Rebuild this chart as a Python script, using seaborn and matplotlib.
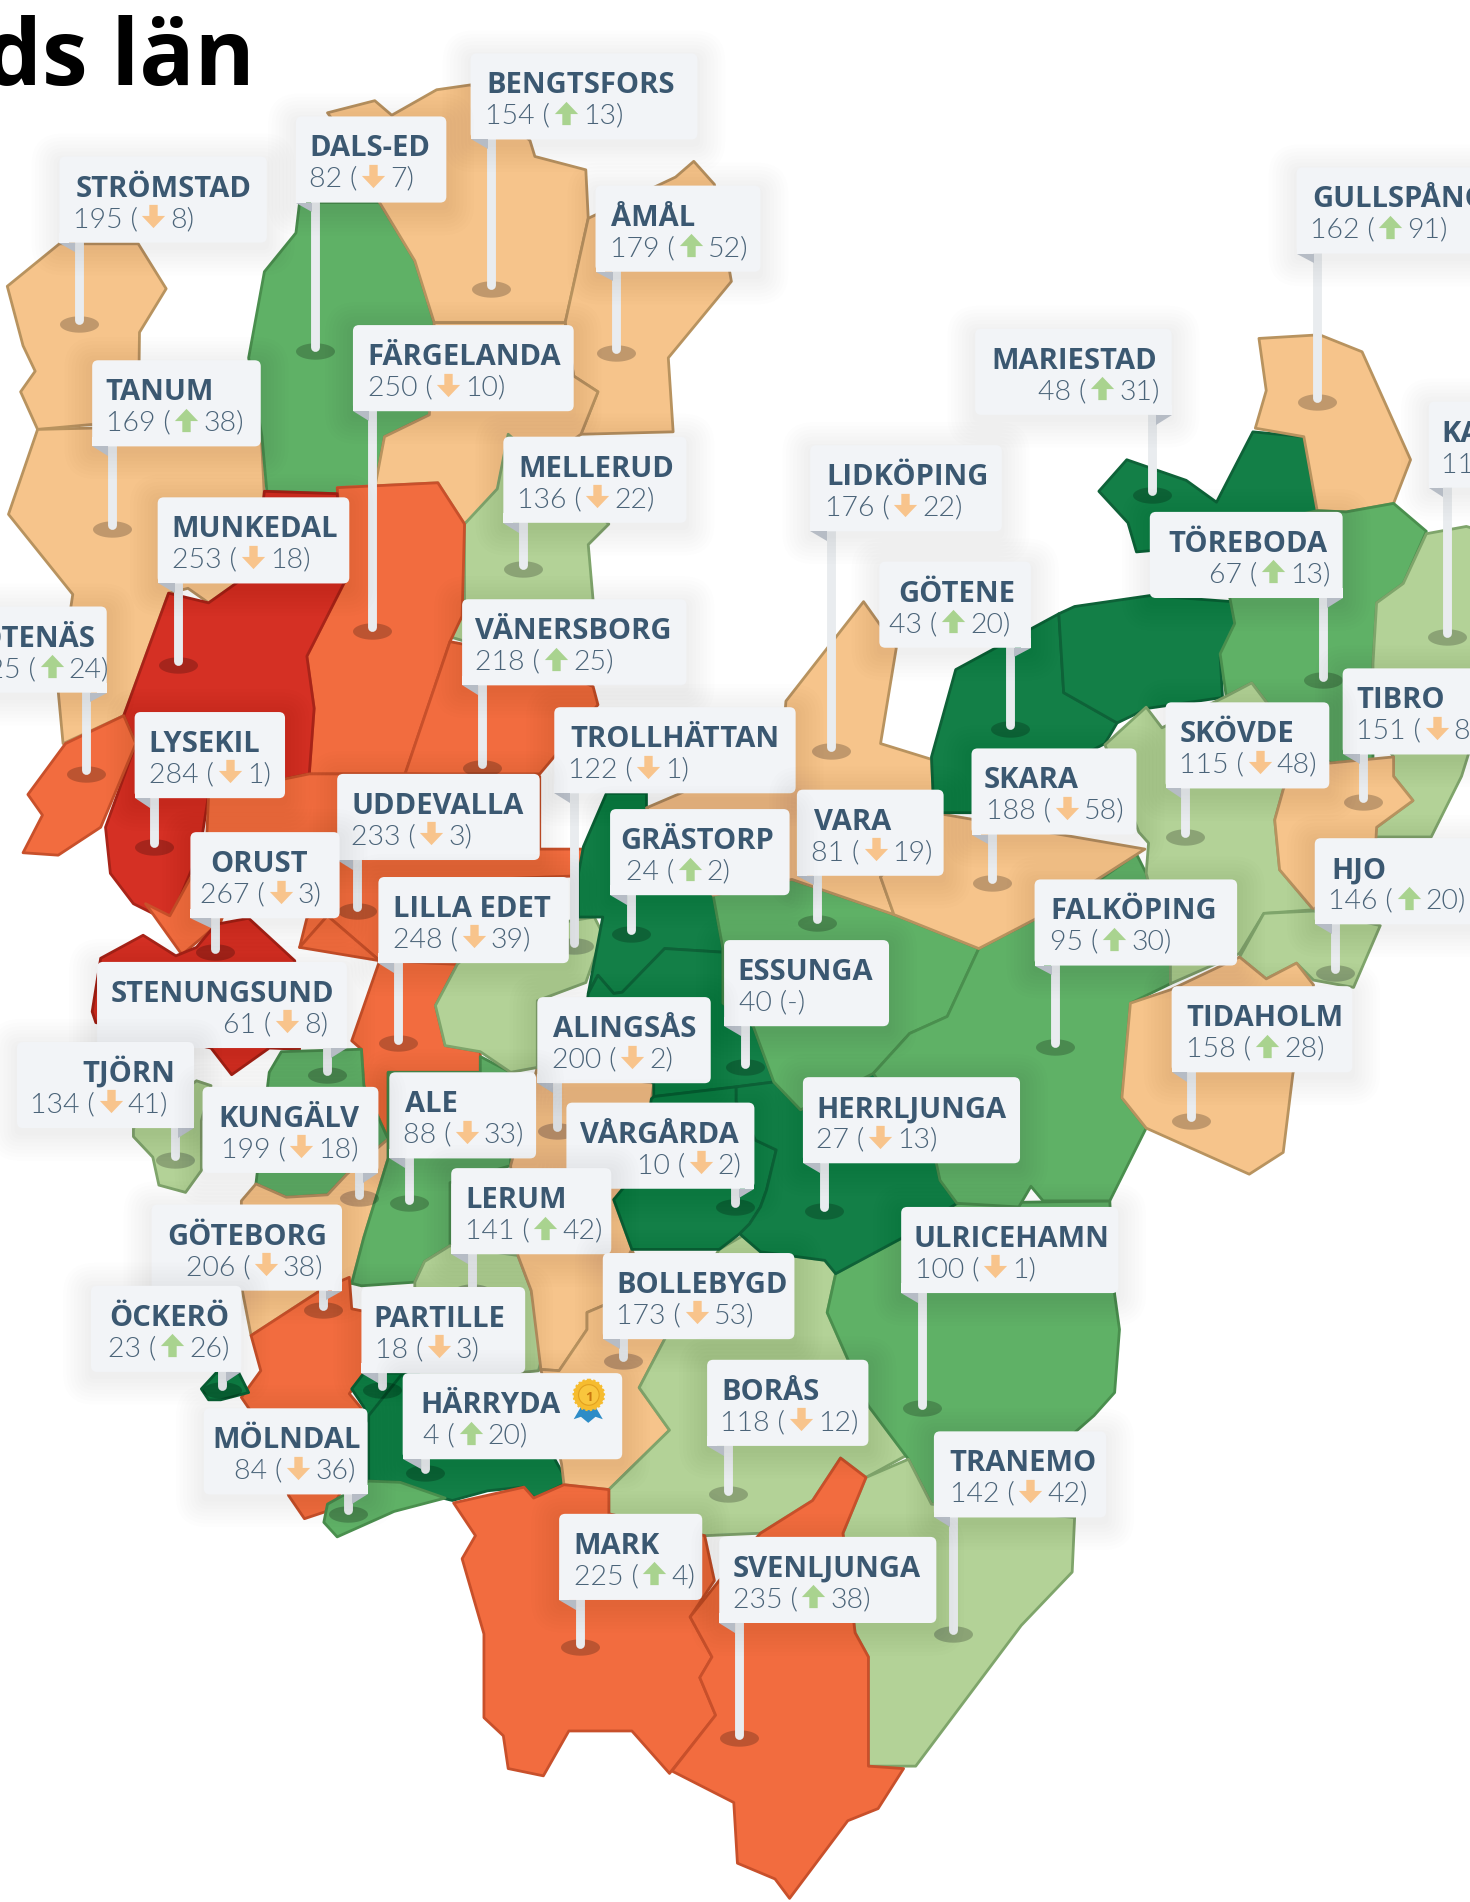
import numpy as np
import pandas as pd
import matplotlib
matplotlib.use("Agg")
import matplotlib.pyplot as plt
import seaborn as sns
from matplotlib.path import Path
from matplotlib.patches import Polygon, FancyBboxPatch, Circle, Rectangle

# ---------- data ----------
names = ["STRÖMSTAD","DALS-ED","BENGTSFORS","ÅMÅL","TANUM","FÄRGELANDA","MUNKEDAL","MELLERUD",
         "SOTENÄS","VÄNERSBORG","LYSEKIL","UDDEVALLA","TROLLHÄTTAN","GRÄSTORP","ORUST","LILLA EDET",
         "STENUNGSUND","TJÖRN","KUNGÄLV","ALE","ALINGSÅS","VÅRGÅRDA","ESSUNGA","HERRLJUNGA",
         "LERUM","GÖTEBORG","ÖCKERÖ","PARTILLE","MÖLNDAL","HÄRRYDA","BOLLEBYGD","BORÅS",
         "ULRICEHAMN","TRANEMO","MARK","SVENLJUNGA","LIDKÖPING","GÖTENE","SKARA","VARA",
         "MARIESTAD","GULLSPÅNG","KARLSBORG","TÖREBODA","SKÖVDE","TIBRO","FALKÖPING","HJO","TIDAHOLM"]
ranks = [195,82,154,179,169,250,253,136,225,218,284,233,122,24,267,248,61,134,199,88,200,10,40,27,
         141,206,23,18,84,4,173,118,100,142,225,235,176,43,188,81,48,162,112,67,115,151,95,146,158]
changes = [-8,-7,13,52,38,-10,-18,-22,24,25,-1,-3,-1,2,-3,-39,-8,-41,-18,-33,-2,-2,0,-13,
           42,-38,26,-3,-36,20,-53,-12,-1,-42,4,38,-22,20,-58,-19,31,91,5,13,-48,-81,30,20,28]

# label layout: x0, y0, x1, pin x, pin foot y, name x, value x
box_x0 = [49,244,388,491,76,291,130,415,-50,381,111,278,457,503,157,312,80,14,167,321,443,467,597,662,
          372,125,75,298,168,332,497,583,743,770,461,593,668,725,801,657,804,1069,1178,948,961,1107,853,1084,966]
box_y0 = [129,96,44,153,297,268,410,360,500,494,587,638,583,667,686,723,793,859,896,884,822,909,775,888,
          963,993,1060,1061,1161,1132,1033,1121,995,1180,1248,1267,367,463,617,651,271,138,331,422,579,551,725,691,813]
box_x1 = [220,368,575,627,215,473,288,566,88,566,235,445,656,651,280,469,286,160,312,442,586,622,733,841,
          504,282,199,433,303,513,655,716,922,912,579,772,826,850,937,778,966,1260,1260,1107,1096,1260,1020,1260,1115]
pin_x = [65,260,405,508,92,307,147,431,71,397,127,294,473,520,177,328,270,144,296,337,459,606,614,679,
         389,266,183,315,287,350,514,600,760,786,478,609,685,833,818,674,950,1086,1193,1091,977,1124,870,1101,982]
pin_y = [267,289,238,291,436,520,548,469,638,633,698,751,780,770,785,860,886,956,988,992,932,995,880,998,
         1065,1080,1146,1146,1248,1214,1122,1232,1161,1347,1358,1433,619,601,728,761,408,331,525,561,690,661,863,802,924]
name_x = [62,255,401,504,87,303,141,427,-30,392,122,290,470,511,173,324,91,68,180,334,456,478,608,673,
          384,138,90,308,175,347,508,595,753,783,473,604,681,741,811,671,817,1082,1188,963,973,1118,866,1098,978]
value_x = [60,255,400,503,87,303,142,426,-24,392,123,289,468,516,165,324,184,25,182,332,455,525,609,673,
           383,153,89,309,193,349,508,594,754,783,473,604,680,733,813,669,856,1080,1188,997,972,1118,866,1095,978]

# map outlines, drawn as (municipality, ring)
ring_names = []
rings = []
def add(name, pts):
    ring_names.append(name); rings.append(pts)

add("STRÖMSTAD",[(49,201),(6,236),(19,285),(29,306),(17,323),(31,354),(75,350),(114,352),(115,274),(137,238),(114,201)])
add("TANUM",[(31,354),(114,352),(215,350),(218,410),(210,470),(172,497),(155,485),(139,489),(102,590),(52,613),(48,570),(60,490),(7,424)])
add("DALS-ED",[(247,167),(313,167),(342,215),(358,266),(354,342),(317,360),(309,402),(278,407),(220,405),(216,360),(205,295),(218,224),(244,192)])
add("BENGTSFORS",[(270,93),(309,83),(323,95),(360,74),(388,70),(437,116),(441,129),(483,140),(485,180),(466,266),(358,266),(342,215),(313,167),(290,120)])
add("ÅMÅL",[(485,180),(557,146),(572,133),(589,152),(603,232),(551,295),(555,356),(479,358),(493,323),(473,310),(466,266)])
add("BENGTSFORS",[(358,266),(466,266),(473,310),(493,323),(479,358),(415,403),(383,432),(361,398),(278,402),(309,402),(317,360),(354,342)])
add("MELLERUD",[(419,358),(502,432),(485,449),(489,495),(489,560),(371,525),(383,495),(383,432),(410,403)])
add("FÄRGELANDA",[(278,402),(361,398),(383,432),(381,508),(371,529),(334,638),(255,638),(259,584),(253,541),(284,480)])
add("VÄNERSBORG",[(371,529),(334,638),(445,638),(493,581),(489,566),(430,540)])
add("MUNKEDAL",[(218,405),(278,407),(284,480),(253,541),(259,584),(255,638),(172,655),(165,700),(140,760),(110,745),(91,720),(87,682),(112,613),(102,590),(139,489),(172,497),(210,470)])
add("SOTENÄS",[(102,590),(54,613),(23,655),(35,672),(19,703),(48,705),(83,682),(112,613)])
add("UDDEVALLA",[(172,655),(255,638),(340,638),(445,640),(445,700),(482,700),(477,722),(400,725),(377,795),(313,792),(270,755),(247,781),(253,757),(275,740),(280,700),(195,725),(170,700)])
add("UDDEVALLA",[(120,745),(150,787),(182,760),(195,725),(170,700),(140,755)])
add("ORUST",[(83,790),(118,771),(145,788),(162,781),(178,762),(205,757),(243,792),(247,865),(222,864),(191,886),(174,864),(79,843),(76,834)])
add("LILLA EDET",[(247,781),(270,755),(313,792),(377,795),(359,829),(367,862),(396,867),(396,884),(320,884),(320,939),(300,895),(298,865),(290,858),(313,792)])
add("STENUNGSUND",[(222,884),(232,867),(298,865),(300,895),(320,939),(286,968),(270,985),(236,987),(211,976)])
add("TJÖRN",[(162,891),(174,895),(166,924),(166,965),(153,983),(131,977),(126,954),(110,937),(110,930)])
add("KUNGÄLV",[(199,990),(211,976),(236,987),(270,985),(286,968),(320,939),(320,955),(300,1020),(290,1058),(267,1062),(207,1101),(199,1060)])
add("ALE",[(320,884),(396,884),(396,871),(421,884),(421,961),(371,975),(371,1027),(350,1040),(342,1057),(298,1060),(290,1058),(300,1020),(320,955)])
add("GÖTEBORG",[(207,1101),(267,1062),(288,1053),(290,1079),(300,1081),(300,1132),(288,1149),(298,1161),(300,1200),(272,1245),(251,1252),(238,1233),(225,1190),(199,1152),(215,1130)])
add("ÖCKERÖ",[(166,1145),(178,1132),(197,1132),(205,1148),(182,1154),(172,1154)])
add("LERUM",[(350,1040),(371,1027),(427,1035),(438,1064),(448,1115),(444,1130),(425,1132),(342,1132),(342,1057)])
add("PARTILLE",[(290,1145),(300,1132),(345,1132),(345,1160),(304,1172),(300,1160)])
add("HÄRRYDA",[(304,1167),(332,1132),(440,1160),(458,1204),(468,1222),(441,1235),(431,1226),(402,1229),(373,1237),(365,1235),(330,1222),(304,1221)])
add("MÖLNDAL",[(267,1255),(278,1267),(325,1246),(367,1235),(330,1222),(304,1221),(270,1240)])
add("ALINGSÅS",[(421,961),(443,880),(539,893),(530,960),(506,989),(521,1030),(498,1076),(484,1082),(484,1096),(461,1130),(446,1129),(438,1064),(427,1035)])
add("BOLLEBYGD",[(498,1076),(484,1082),(484,1096),(461,1130),(446,1129),(463,1207),(465,1224),(502,1228),(552,1179),(527,1144),(548,1104),(521,1030)])
add("BORÅS",[(612,1019),(627,1032),(680,1039),(689,1050),(682,1082),(716,1159),(747,1200),(714,1218),(693,1202),(670,1237),(627,1264),(581,1266),(502,1248),(502,1228),(552,1179),(527,1144),(548,1104),(593,1030)])
add("ULRICEHAMN",[(689,1050),(743,1021),(789,992),(915,990),(919,1067),(923,1096),(919,1148),(902,1167),(886,1181),(886,1251),(768,1240),(749,1203),(716,1159),(682,1082)])
add("TRANEMO",[(714,1218),(749,1203),(768,1240),(886,1251),(884,1296),(842,1340),(755,1456),(716,1456),(716,1366),(705,1346),(695,1264)])
add("MARK",[(374,1239),(432,1226),(440,1235),(465,1224),(502,1228),(502,1248),(581,1266),(589,1303),(569,1333),(587,1366),(577,1383),(590,1414),(552,1462),(521,1427),(469,1427),(448,1464),(419,1458),(415,1431),(399,1416),(399,1347),(381,1285),(392,1266)])
add("SVENLJUNGA",[(693,1202),(714,1218),(695,1264),(705,1346),(716,1366),(716,1456),(745,1458),(724,1491),(699,1501),(651,1565),(639,1549),(608,1536),(605,1486),(554,1460),(590,1414),(577,1383),(587,1366),(569,1333),(593,1303),(627,1264),(670,1237)])
add("TROLLHÄTTAN",[(377,795),(405,770),(490,756),(497,770),(483,810),(443,825),(443,880),(421,884),(396,867),(367,862),(359,829)])
add("GRÄSTORP",[(500,654),(533,654),(533,666),(588,738),(596,782),(596,785),(548,782),(513,818),(506,819),(493,804),(485,819),(497,756),(477,756),(477,720),(481,698)])
add("ESSUNGA",[(493,804),(506,819),(513,818),(548,782),(596,785),(596,827),(621,846),(638,892),(607,896),(539,904),(539,893),(480,860),(485,819)])
add("VÅRGÅRDA",[(539,904),(607,896),(607,908),(623,940),(640,948),(632,981),(627,995),(618,1009),(610,1017),(593,1030),(521,1030),(506,989),(530,960),(537,906)])
add("HERRLJUNGA",[(607,896),(638,892),(660,915),(720,885),(772,959),(775,973),(789,992),(743,1021),(689,1050),(680,1039),(627,1032),(612,1019),(610,1017),(618,1009),(627,995),(632,981),(640,948),(623,940),(607,908)])
add("VARA",[(588,738),(653,725),(737,754),(807,782),(781,838),(750,852),(720,885),(660,915),(638,892),(621,846),(596,827),(596,782)])
add("FALKÖPING",[(807,782),(853,758),(910,723),(937,704),(945,720),(965,794),(965,811),(932,827),(925,905),(945,930),(915,990),(860,990),(850,978),(840,995),(789,992),(775,973),(772,959),(720,885),(750,852),(781,838)])
add("LIDKÖPING",[(712,496),(739,534),(726,613),(768,626),(770,670),(726,723),(737,754),(653,725),(588,738),(533,666),(561,654),(645,615),(648,578)])
add("SKARA",[(770,670),(944,700),(853,758),(807,782),(737,754),(726,723)])
add("GÖTENE",[(768,624),(788,552),(873,506),(877,571),(921,596),(911,613),(801,670),(770,670)])
add("MARIESTAD",[(873,506),(886,500),(948,491),(1016,496),(1020,512),(1006,542),(1008,575),(946,584),(921,596),(877,571)])
add("MARIESTAD",[(906,405),(929,379),(978,396),(1003,414),(1033,356),(1075,360),(1086,421),(1086,470),(948,454),(937,455),(930,431)])
add("GULLSPÅNG",[(1038,279),(1088,276),(1123,290),(1163,379),(1149,415),(1110,422),(1086,421),(1075,360),(1035,353),(1044,322)])
add("TÖREBODA",[(1086,421),(1110,422),(1149,415),(1176,438),(1157,481),(1135,497),(1132,547),(1132,627),(1097,629),(1045,580),(1032,563),(1011,574),(1006,539),(1018,514),(1014,493),(1000,440)])
add("KARLSBORG",[(1176,440),(1209,434),(1230,440),(1230,560),(1205,640),(1180,690),(1134,690),(1135,682),(1165,660),(1149,640),(1149,624),(1132,600),(1132,547),(1135,497),(1157,481)])
add("SKÖVDE",[(911,614),(945,583),(958,600),(1011,574),(1032,563),(1045,580),(1070,625),(1058,651),(1051,676),(1055,717),(1083,750),(1042,753),(1022,786),(965,811),(965,794),(945,720),(947,695),(939,686)])
add("TIBRO",[(1097,629),(1149,624),(1149,640),(1165,660),(1135,682),(1134,700),(1083,750),(1055,717),(1051,676),(1058,651),(1066,630)])
add("HJO",[(1042,753),(1083,751),(1138,763),(1116,814),(1083,808),(1069,794),(1044,807),(1022,789)])
add("TIDAHOLM",[(1022,789),(1044,807),(1069,794),(1083,812),(1066,885),(1058,950),(1030,968),(945,930),(925,905),(932,827),(965,816)])

# ---------- styling ----------
sns.set_theme(style="white")
plt.rcParams["font.family"] = ["Open Sans", "DejaVu Sans"]
VAL_FONT = ["Lato", "DejaVu Sans"]
NAME_C, VAL_C = "#3B5871", "#4B6479"
UP_C, DOWN_C = "#A9D38F", "#F8C48C"
FILL = [(50,"#137F47","#0E6238"),(100,"#5FB166","#4A8F4E"),(150,"#B3D297","#7FA56B"),
        (200,"#F6C48B","#B8935F"),(250,"#F26C3F","#C8502B"),(999,"#D53024","#A82419")]
def style_for(rank):
    for hi, f, e in FILL:
        if rank <= hi:
            return f, e

rank_of = dict(zip(names, ranks))
fig = plt.figure(figsize=(14.7, 19.02), dpi=100)
ax = fig.add_axes([0, 0, 1, 1])
ax.set_xlim(0, 1212); ax.set_ylim(1568, 0); ax.axis("off")

for nm, pts in zip(ring_names, rings):
    f, e = style_for(rank_of[nm])
    ax.add_patch(Polygon(pts, closed=True, facecolor=f, edgecolor=e, lw=2.0, joinstyle="round", zorder=2))

# pin feet
t = np.linspace(0, 2*np.pi, 40)
foot = Path(np.c_[np.cos(t), 0.42*np.sin(t)], closed=True)
df = pd.DataFrame({"x": pin_x, "y": pin_y})
sns.scatterplot(data=df, x="x", y="y", marker=foot, s=790, color="black", alpha=0.22,
                linewidth=0, ax=ax, zorder=5, legend=False)
ax.set_xlim(0, 1212); ax.set_ylim(1568, 0); ax.axis("off")

BOX_H = 71
order = np.argsort(box_y0, kind="stable")
for k, i in enumerate(order):
    x0, y0, x1, px, py = box_x0[i], box_y0[i], box_x1[i], pin_x[i], pin_y[i]
    y1 = y0 + BOX_H
    z = 10 + k*0.1
    ax.plot([px, px], [y1-2, py-3], color="#E9ECEF", lw=6.4, solid_capstyle="round", zorder=6)
    for pad in range(2, 26, 3):
        ax.add_patch(FancyBboxPatch((x0, y0+4), x1-x0, BOX_H, boxstyle=f"round,pad={pad},rounding_size={pad+3}",
                                    fc="black", ec="none", alpha=0.0075, zorder=z))
    ax.add_patch(FancyBboxPatch((x0+3, y0+3), x1-x0-6, BOX_H-6, boxstyle="round,pad=3,rounding_size=5",
                                fc="#F2F4F7", ec="none", zorder=z+0.01))
    right = (x1-px) < (px-x0)
    if right:
        ax.add_patch(Rectangle((x1-8, y1-8), 8, 8, fc="#F2F4F7", ec="none", zorder=z+0.02))
        ax.add_patch(Polygon([(x1, y1), (px+3, y1), (px+3, y1+8)], fc="#B6BCC5", ec="none", zorder=z+0.02))
    else:
        ax.add_patch(Rectangle((x0, y1-8), 8, 8, fc="#F2F4F7", ec="none", zorder=z+0.02))
        ax.add_patch(Polygon([(x0, y1), (px-3, y1), (px-3, y1+8)], fc="#B6BCC5", ec="none", zorder=z+0.02))

# texts and arrows
renderer = fig.canvas.get_renderer()
inv = ax.transData.inverted()
def right_edge(txt):
    return inv.transform((txt.get_window_extent(renderer).x1, 0))[0]

vkw = dict(fontsize=20.5, family=VAL_FONT, fontweight=300, color=VAL_C, va="baseline", zorder=100)
up_xy, down_xy = [], []
for i, nm in enumerate(names):
    y0 = box_y0[i]
    ax.text(name_x[i], y0+33, nm, fontsize=21, fontweight="bold", color=NAME_C, va="baseline", ha="left", zorder=100)
    yb = y0 + 58
    ch = changes[i]
    if ch == 0:
        ax.text(value_x[i], yb, f"{ranks[i]} (-)", **vkw)
        continue
    t1 = ax.text(value_x[i], yb, f"{ranks[i]} (", **vkw)
    xe = right_edge(t1)
    (up_xy if ch > 0 else down_xy).append((xe + 13, yb - 9))
    ax.text(xe + 27, yb, f"{abs(ch)})", **vkw)

arrow_down = Path([(-1,0.05),(0,-1),(1,0.05),(0.36,0.05),(0.36,1),(-0.36,1),(-0.36,0.05),(-1,0.05)], closed=True)
arrow_up = Path([(-1,-0.05),(0,1),(1,-0.05),(0.36,-0.05),(0.36,-1),(-0.36,-1),(-0.36,-0.05),(-1,-0.05)], closed=True)
for pts, mk, col in ((up_xy, arrow_up, UP_C), (down_xy, arrow_down, DOWN_C)):
    a = np.array(pts)
    sns.scatterplot(x=a[:, 0], y=a[:, 1], marker=mk, s=280, color=col, linewidth=0, ax=ax, zorder=100, legend=False)
ax.set_xlim(0, 1212); ax.set_ylim(1568, 0); ax.axis("off")

# medal on the first-ranked municipality
ax.add_patch(Polygon([(480,1158),(473,1170),(479,1168),(485,1173),(491,1168),(497,1170),(490,1158)],
                     fc="#2E8CC7", ec="none", zorder=101))
ax.add_patch(Circle((485.5, 1150), 12.5, fc="#F6BC2F", ec="#F6BC2F", ls=(0, (1, 1)), lw=1.6, zorder=102))
ax.add_patch(Circle((485.5, 1150), 8.5, fc="#F9C63D", ec="#E2A11F", lw=0.8, zorder=103))
ax.text(485.5, 1155, "1", fontsize=9.5, fontweight="bold", color="#C9770F", ha="center", va="baseline", zorder=104)

# title (cut off by the crop)
ax.text(210, 70, "ds län", fontsize=66, fontweight="bold", color="black", ha="right", va="baseline", zorder=100)

fig.savefig("out.png", dpi=100)
